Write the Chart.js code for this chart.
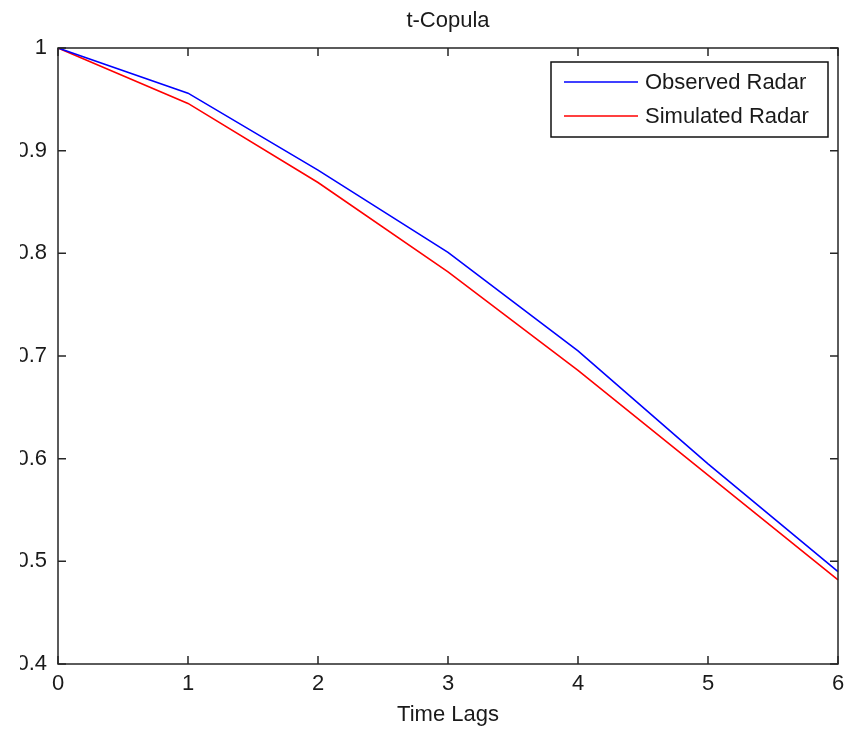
<!DOCTYPE html>
<html>
<head>
<meta charset="utf-8">
<script src="https://cdn.jsdelivr.net/npm/chart.js@4.4.0/dist/chart.umd.min.js"></script>
<style>
html, body { margin: 0; padding: 0; background: #fff; overflow: hidden; }
#wrap { position: absolute; left: 20px; top: 0; width: 834px; height: 730px; }
</style>
</head>
<body>
<div id="wrap"><canvas id="myCanvas" width="834" height="730"></canvas></div>
<script>
var titleText = "t-Copula";
var xTitle = "Time Lags";
var lags = ["0", "1", "2", "3", "4", "5", "6"];
var observed = [1, 0.956, 0.881, 0.801, 0.705, 0.595, 0.490];
var simulated = [1, 0.946, 0.869, 0.782, 0.686, 0.584, 0.482];
var yTicks = [0.4, 0.5, 0.6, 0.7, 0.8, 0.9, 1];
var yTickLabels = ["0.4", "0.5", "0.6", "0.7", "0.8", "0.9", "1"];
var seriesNames = ["Observed Radar", "Simulated Radar"];

var FONT = "'Liberation Sans', Arial, sans-serif";
var INK = "#262626";

// box, inward ticks, title and legend drawn like a matlab figure
var framePlugin = {
    id: "frame",
    afterDatasetsDraw: function (chart) {
        var ctx = chart.ctx;
        var a = chart.chartArea;
        var xs = chart.scales.x;
        var ys = chart.scales.y;
        ctx.save();
        ctx.strokeStyle = INK;
        ctx.lineWidth = 1.5;
        ctx.strokeRect(a.left, a.top, a.right - a.left, a.bottom - a.top);

        var t = 8;
        ctx.beginPath();
        for (var i = 0; i < lags.length; i++) {
            var px = xs.getPixelForValue(i);
            ctx.moveTo(px, a.bottom); ctx.lineTo(px, a.bottom - t);
            ctx.moveTo(px, a.top); ctx.lineTo(px, a.top + t);
        }
        for (var j = 0; j < yTicks.length; j++) {
            var py = ys.getPixelForValue(yTicks[j]);
            ctx.moveTo(a.left, py); ctx.lineTo(a.left + t, py);
            ctx.moveTo(a.right, py); ctx.lineTo(a.right - t, py);
        }
        ctx.stroke();

        // title
        ctx.fillStyle = "#1a1a1a";
        ctx.font = "22px " + FONT;
        ctx.textAlign = "center";
        ctx.textBaseline = "middle";
        ctx.fillText(titleText, (a.left + a.right) / 2, 21);

        // legend
        var bx = a.right - 287, by = a.top + 14, bw = 277, bh = 75;
        ctx.fillStyle = "#fff";
        ctx.fillRect(bx, by, bw, bh);
        ctx.strokeStyle = "#111";
        ctx.lineWidth = 1.5;
        ctx.strokeRect(bx, by, bw, bh);
        ctx.textAlign = "left";
        var ds = chart.data.datasets;
        for (var k = 0; k < ds.length; k++) {
            var ly = by + 20 + k * 34;
            ctx.strokeStyle = ds[k].borderColor;
            ctx.lineWidth = 1.6;
            ctx.beginPath();
            ctx.moveTo(bx + 13, ly);
            ctx.lineTo(bx + 87, ly);
            ctx.stroke();
            ctx.fillStyle = "#1a1a1a";
            ctx.fillText(ds[k].label, bx + 94, ly + 1);
        }
        ctx.restore();
    }
};

new Chart(document.getElementById("myCanvas"), {
    type: "line",
    data: {
        labels: lags,
        datasets: [
            {
                label: seriesNames[0],
                data: observed,
                borderColor: "rgb(0, 0, 255)",
                borderWidth: 1.6,
                pointRadius: 0,
                tension: 0,
                fill: false
            },
            {
                label: seriesNames[1],
                data: simulated,
                borderColor: "rgb(255, 0, 0)",
                borderWidth: 1.6,
                pointRadius: 0,
                tension: 0,
                fill: false
            }
        ]
    },
    options: {
        responsive: false,
        animation: false,
        layout: { padding: { top: 48, right: 16, bottom: 0, left: 0 } },
        plugins: {
            legend: { display: false },
            title: { display: false },
            tooltip: { enabled: false }
        },
        scales: {
            x: {
                offset: false,
                grid: { display: false, drawTicks: false },
                border: { display: false },
                ticks: {
                    color: "#1a1a1a",
                    font: { family: FONT, size: 22 },
                    padding: 7,
                    maxRotation: 0,
                    autoSkip: false
                },
                title: {
                    display: true,
                    text: xTitle,
                    color: "#1a1a1a",
                    font: { family: FONT, size: 22 },
                    padding: { top: 0, bottom: 2 }
                },
                afterFit: function (scale) { scale.height = 66; }
            },
            y: {
                min: 0.4,
                max: 1,
                grid: { display: false, drawTicks: false },
                border: { display: false },
                afterBuildTicks: function (scale) {
                    scale.ticks = yTicks.map(function (v) { return { value: v }; });
                },
                ticks: {
                    color: "#1a1a1a",
                    font: { family: FONT, size: 22 },
                    padding: 11,
                    callback: function (v) {
                        var idx = yTicks.indexOf(Math.round(v * 10) / 10);
                        return idx >= 0 ? yTickLabels[idx] : "";
                    }
                },
                afterFit: function (scale) { scale.width = 38; }
            }
        }
    },
    plugins: [framePlugin]
});
</script>
</body>
</html>
